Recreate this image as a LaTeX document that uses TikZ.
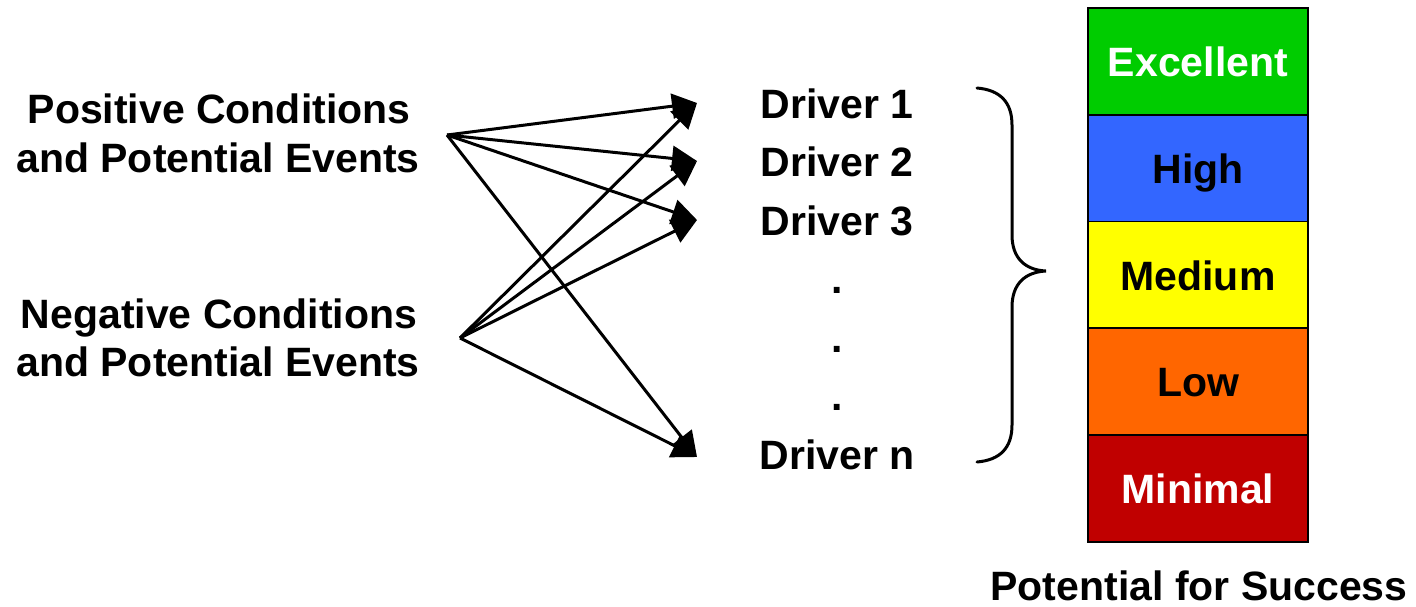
\documentclass[tikz,border=0pt]{standalone}
\usepackage{fontspec}
\setmainfont{Liberation Sans}
\usetikzlibrary{arrows.meta}
\definecolor{cgreen}{RGB}{0,204,0}
\definecolor{cblue}{RGB}{51,102,255}
\definecolor{cyellow}{RGB}{255,255,0}
\definecolor{corange}{RGB}{255,102,0}
\definecolor{cred}{RGB}{192,0,0}
\tikzset{
  lbl/.style={font=\fontsize{41}{49}\selectfont\bfseries, inner sep=0pt, anchor=base},
  cell/.style={draw=black, line width=1.5pt, minimum width=220pt, minimum height=107pt,
    inner sep=0pt, text height=30pt, text depth=0pt, font=\fontsize{41}{49}\selectfont\bfseries},
  arr/.style={line width=3pt, -{Triangle[length=25pt,width=25pt]}},
  brace/.style={line width=3pt, line cap=round}
}
\begin{document}
\begin{tikzpicture}[x=1pt,y=-1pt]
\useasboundingbox (0,0) rectangle (1416,606);
% left labels
\node[lbl] (pos1) at (219,123) {Positive Conditions};
\node[lbl] (pos2) at (218,172) {and Potential Events};
\node[lbl] (neg1) at (219,328) {Negative Conditions};
\node[lbl] (neg2) at (218,376) {and Potential Events};
% drivers
\node[lbl] (d1) at (837,118) {Driver 1};
\node[lbl] (d2) at (837,176.5) {Driver 2};
\node[lbl] (d3) at (837,235) {Driver 3};
\node[lbl] (dot1) at (837,293.5) {.};
\node[lbl] (dot2) at (837,352) {.};
\node[lbl] (dot3) at (837,410.5) {.};
\node[lbl] (dn) at (837,469) {Driver n};
% arrow endpoints
\coordinate (P) at (447,135);
\coordinate (N) at (460,338);
\coordinate (t1) at (697,103);
\coordinate (t2) at (697,161);
\coordinate (t3) at (697,220);
\coordinate (tn) at (697,457);
\draw[arr] (P) -- (t1);
\draw[arr] (P) -- (t2);
\draw[arr] (P) -- (t3);
\draw[arr] (P) -- (tn);
\draw[arr] (N) -- (t1);
\draw[arr] (N) -- (t2);
\draw[arr] (N) -- (t3);
\draw[arr] (N) -- (tn);
% brace
\draw[brace] (977,88) .. controls (1000,90) and (1012,102) .. (1012,125)
  -- (1012,235) .. controls (1012,258) and (1025,270) .. (1046,271)
  .. controls (1025,272) and (1012,284) .. (1012,307)
  -- (1012,425) .. controls (1012,448) and (1000,460) .. (977,462);
% scale
\node[cell, fill=cgreen, text=white] (ex) at (1198,61.5) {Excellent};
\node[cell, fill=cblue] (hi) at (1198,168.5) {High};
\node[cell, fill=cyellow] (me) at (1198,275) {Medium};
\node[cell, fill=corange] (lo) at (1198,381.5) {Low};
\node[cell, fill=cred, text=white] (mi) at (1198,488.5) {Minimal};
\node[lbl] (pfs) at (1199,600) {Potential for Success};
\end{tikzpicture}
\end{document}
